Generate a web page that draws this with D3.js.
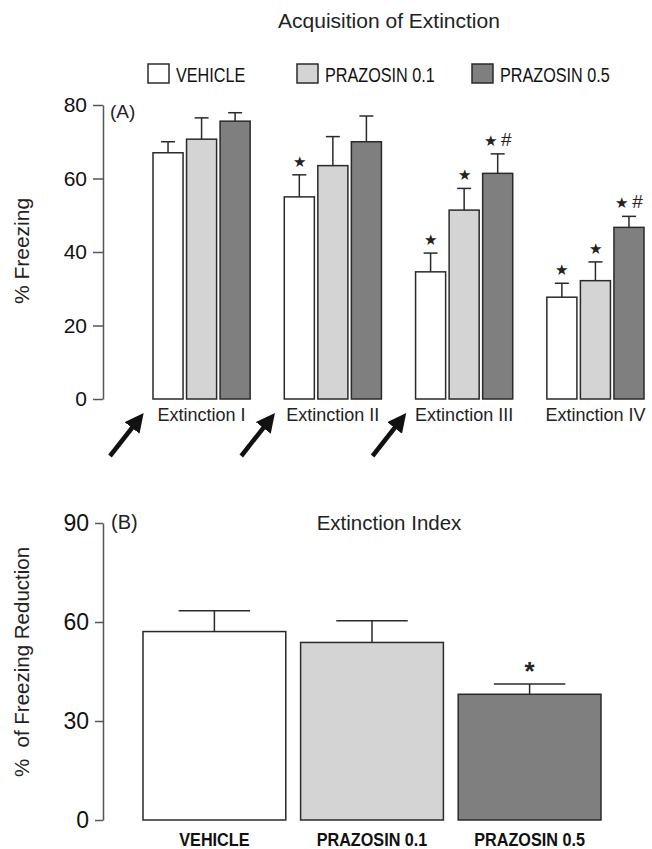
<!DOCTYPE html>
<html>
<head>
<meta charset="utf-8">
<script src="https://cdn.jsdelivr.net/npm/d3@7"></script>
<style>
  body { margin: 0; background: #fff; }
  svg { display: block; font-family: "Liberation Sans", Arial, sans-serif; }
</style>
</head>
<body>
<div id="chart"></div>
<script>
// data
const sessions = ["Extinction I", "Extinction II", "Extinction III", "Extinction IV"];
const groups = ["VEHICLE", "PRAZOSIN 0.1", "PRAZOSIN 0.5"];
const groupColors = ["#ffffff", "#d4d4d4", "#7f7f7f"];

const vehicleMean = [67.0, 55.0, 34.6, 27.7];
const vehicleSem = [3.0, 6.0, 5.1, 3.8];
const prazo01Mean = [70.7, 63.5, 51.4, 32.2];
const prazo01Sem = [5.8, 7.9, 5.9, 5.1];
const prazo05Mean = [75.6, 70.0, 61.4, 46.7];
const prazo05Sem = [2.3, 7.0, 5.3, 3.0];

const vehicleSig = ["", "*", "*", "*"];
const prazo01Sig = ["", "", "*", "*"];
const prazo05Sig = ["", "", "*#", "*#"];

const arrowBefore = ["Extinction I", "Extinction II", "Extinction III"];

const yTicksA = [0, 20, 40, 60, 80];

const indexMean = [57.1, 53.8, 38.1];
const indexSem = [6.3, 6.6, 3.1];
const indexSig = ["", "", "*"];
const yTicksB = [0, 30, 60, 90];

const W = 652, H = 849;
const svg = d3.select("#chart").append("svg")
  .attr("width", W).attr("height", H);

const stroke = "#2a2a2a";
const axisColor = "#555";

// ---------- Panel A ----------
const rowsA = [];
sessions.forEach((s, i) => {
  rowsA.push({ session: s, group: groups[0], mean: vehicleMean[i], sem: vehicleSem[i], sig: vehicleSig[i], color: groupColors[0] });
  rowsA.push({ session: s, group: groups[1], mean: prazo01Mean[i], sem: prazo01Sem[i], sig: prazo01Sig[i], color: groupColors[1] });
  rowsA.push({ session: s, group: groups[2], mean: prazo05Mean[i], sem: prazo05Sem[i], sig: prazo05Sig[i], color: groupColors[2] });
});

const xA = d3.scaleBand().domain(sessions).range([153, 644]).paddingInner(0.26).paddingOuter(0);
const xInA = d3.scaleBand().domain(groups).range([0, xA.bandwidth()]).paddingInner(0.104);
const yA = d3.scaleLinear().domain([0, 80]).range([399, 105]);

const gA = svg.append("g");

gA.append("g")
  .attr("transform", "translate(103,0)")
  .call(d3.axisLeft(yA).tickValues(yTicksA).tickSize(10).tickSizeOuter(0).tickPadding(6))
  .call(g => g.selectAll("path, line").attr("stroke", axisColor).attr("stroke-width", 1.5))
  .call(g => g.selectAll("text").attr("font-size", 21).attr("fill", "#111").attr("font-family", "Liberation Sans, Arial, sans-serif"));

const barsA = gA.selectAll(".barA").data(rowsA).enter().append("g")
  .attr("transform", d => `translate(${xA(d.session) + xInA(d.group)},0)`);

barsA.append("line")
  .attr("x1", xInA.bandwidth() / 2).attr("x2", xInA.bandwidth() / 2)
  .attr("y1", d => yA(d.mean)).attr("y2", d => yA(d.mean + d.sem))
  .attr("stroke", stroke).attr("stroke-width", 1.5);
barsA.append("line")
  .attr("x1", xInA.bandwidth() / 2 - 7).attr("x2", xInA.bandwidth() / 2 + 7)
  .attr("y1", d => yA(d.mean + d.sem)).attr("y2", d => yA(d.mean + d.sem))
  .attr("stroke", stroke).attr("stroke-width", 1.5);
barsA.append("rect")
  .attr("x", 0).attr("width", xInA.bandwidth())
  .attr("y", d => yA(d.mean)).attr("height", d => yA(0) - yA(d.mean))
  .attr("fill", d => d.color).attr("stroke", stroke).attr("stroke-width", 1.5);

const sigA = barsA.filter(d => d.sig !== "").append("text")
  .attr("x", xInA.bandwidth() / 2)
  .attr("y", d => yA(d.mean + d.sem) - 8)
  .attr("text-anchor", "middle")
  .attr("fill", "#222");
sigA.append("tspan").attr("font-size", 15).text("\u2605");
sigA.filter(d => d.sig.includes("#")).append("tspan")
  .attr("font-size", 19).attr("dx", 4).text("#");

gA.selectAll(".sess").data(sessions).enter().append("text")
  .attr("x", d => xA(d) + xA.bandwidth() / 2)
  .attr("y", 421)
  .attr("text-anchor", "middle")
  .attr("font-size", 18)
  .attr("fill", "#222")
  .text(d => d);

// arrows pointing at session start
svg.append("defs").append("marker")
  .attr("id", "head").attr("viewBox", "0 0 10 10")
  .attr("refX", 6).attr("refY", 5)
  .attr("markerWidth", 4.2).attr("markerHeight", 4.2)
  .attr("orient", "auto")
  .append("path").attr("d", "M0,0 L10,5 L0,10 Z").attr("fill", "#111");

gA.selectAll(".arrow").data(arrowBefore).enter().append("line")
  .attr("x1", d => xA(d) - 43).attr("y1", 456)
  .attr("x2", d => xA(d) - 14).attr("y2", 419)
  .attr("stroke", "#111").attr("stroke-width", 4.5)
  .attr("marker-end", "url(#head)");

gA.append("text").attr("x", 110).attr("y", 118).attr("font-size", 19).attr("fill", "#222").text("(A)");

svg.append("text").attr("x", 389).attr("y", 28).attr("text-anchor", "middle")
  .attr("font-size", 21).attr("fill", "#222").text("Acquisition of Extinction");

// legend
const legendX = [148, 297, 472];
const legend = svg.selectAll(".leg").data(groups).enter().append("g")
  .attr("transform", (d, i) => `translate(${legendX[i]},64)`);
legend.append("rect").attr("width", 21).attr("height", 19)
  .attr("fill", (d, i) => groupColors[i]).attr("stroke", stroke).attr("stroke-width", 1.5);
legend.append("g").attr("transform", "translate(28,18) scale(0.81,1)")
  .append("text")
  .attr("font-size", 20)
  .attr("fill", "#111").text(d => d);

svg.append("text")
  .attr("transform", "translate(29,251) rotate(-90)")
  .attr("text-anchor", "middle").attr("font-size", 21).attr("fill", "#222")
  .text("% Freezing");

// ---------- Panel B ----------
const rowsB = groups.map((g, i) => ({ group: g, mean: indexMean[i], sem: indexSem[i], sig: indexSig[i], color: groupColors[i] }));

const xB = d3.scaleBand().domain(groups).range([143, 601]).paddingInner(0.094).paddingOuter(0);
const yB = d3.scaleLinear().domain([0, 90]).range([820, 523]);

const gB = svg.append("g");
gB.append("g")
  .attr("transform", "translate(103,0)")
  .call(d3.axisLeft(yB).tickValues(yTicksB).tickSize(8).tickSizeOuter(0).tickPadding(6))
  .call(g => g.selectAll("path, line").attr("stroke", axisColor).attr("stroke-width", 1.5))
  .call(g => g.selectAll("text").attr("font-size", 23).attr("fill", "#111").attr("font-family", "Liberation Sans, Arial, sans-serif"));

const barsB = gB.selectAll(".barB").data(rowsB).enter().append("g")
  .attr("transform", d => `translate(${xB(d.group)},0)`);
barsB.append("line")
  .attr("x1", xB.bandwidth() / 2).attr("x2", xB.bandwidth() / 2)
  .attr("y1", d => yB(d.mean)).attr("y2", d => yB(d.mean + d.sem))
  .attr("stroke", stroke).attr("stroke-width", 1.5);
barsB.append("line")
  .attr("x1", xB.bandwidth() / 4).attr("x2", xB.bandwidth() * 3 / 4)
  .attr("y1", d => yB(d.mean + d.sem)).attr("y2", d => yB(d.mean + d.sem))
  .attr("stroke", stroke).attr("stroke-width", 1.5);
barsB.append("rect")
  .attr("width", xB.bandwidth())
  .attr("y", d => yB(d.mean)).attr("height", d => yB(0) - yB(d.mean))
  .attr("fill", d => d.color).attr("stroke", stroke).attr("stroke-width", 1.5);
barsB.filter(d => d.sig !== "").append("text")
  .attr("x", xB.bandwidth() / 2)
  .attr("y", d => yB(d.mean + d.sem) - 4)
  .attr("text-anchor", "middle").attr("font-size", 26).attr("font-weight", "bold").attr("fill", "#222")
  .text(d => d.sig);

gB.selectAll(".cat").data(groups).enter().append("g")
  .attr("transform", d => `translate(${xB(d) + xB.bandwidth() / 2},846) scale(0.9,1)`)
  .append("text")
  .attr("text-anchor", "middle")
  .attr("font-size", 18).attr("font-weight", "bold")
  .attr("fill", "#111").text(d => d);

gB.append("text").attr("x", 111).attr("y", 529).attr("font-size", 20).attr("fill", "#222").text("(B)");
svg.append("text").attr("x", 389).attr("y", 530).attr("text-anchor", "middle")
  .attr("font-size", 20.5).attr("fill", "#222").text("Extinction Index");

svg.append("text")
  .attr("transform", "translate(29,662) rotate(-90)")
  .attr("text-anchor", "middle").attr("font-size", 20.5).attr("fill", "#222")
  .attr("xml:space", "preserve")
  .text("%  of Freezing Reduction");
</script>
</body>
</html>
